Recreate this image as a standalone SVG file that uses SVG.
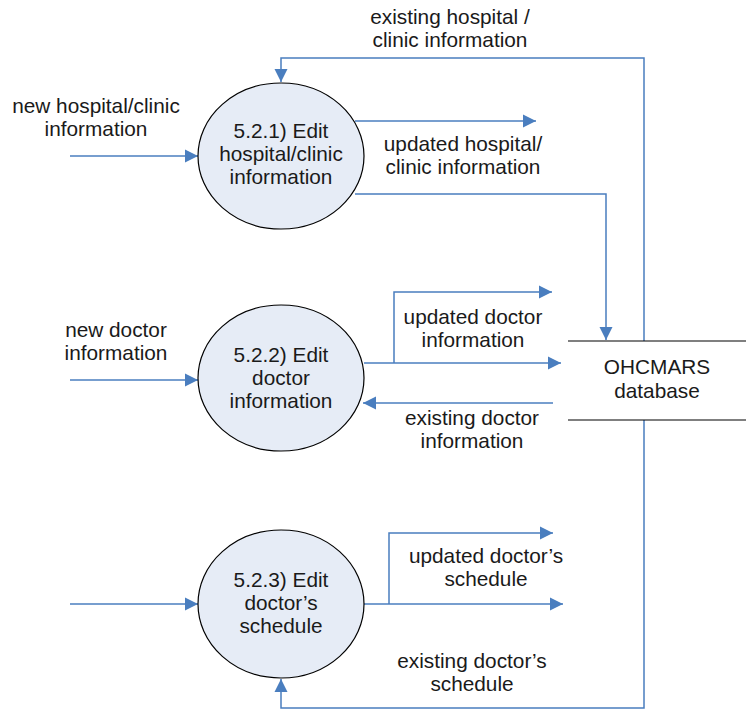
<svg xmlns="http://www.w3.org/2000/svg" width="746" height="709" viewBox="0 0 746 709">
<defs>
<marker id="ah" markerUnits="userSpaceOnUse" markerWidth="14" markerHeight="14" viewBox="0 0 14 14" refX="13" refY="7" orient="auto">
<path d="M0,0.5 L13,7 L0,13.5 z" fill="#4A7EBF"/>
</marker>
<style>
.t{font-family:"Liberation Sans",Arial,sans-serif;font-size:20.8px;fill:#1a1a1a;text-anchor:middle}
.c{fill:none;stroke:#4A7EBF;stroke-width:1.5}
.n{fill:#E6ECF6;stroke:#000;stroke-width:1.2}
.d{stroke:#000;stroke-width:1.2}
</style>
</defs>
<rect width="746" height="709" fill="#fff"/>
<g id="connectors">
<path class="c" d="M644,341 V58 H281 V82" marker-end="url(#ah)"/>
<path class="c" d="M355,121 H536" marker-end="url(#ah)"/>
<path class="c" d="M355,194 H606 V340" marker-end="url(#ah)"/>
<path class="c" d="M70,156 H198" marker-end="url(#ah)"/>
<path class="c" d="M70,380 H198" marker-end="url(#ah)"/>
<path class="c" d="M364,363 H561" marker-end="url(#ah)"/>
<path class="c" d="M394,363 V292 H552" marker-end="url(#ah)"/>
<path class="c" d="M553,403 H363" marker-end="url(#ah)"/>
<path class="c" d="M70,604 H198" marker-end="url(#ah)"/>
<path class="c" d="M364,604 H563" marker-end="url(#ah)"/>
<path class="c" d="M389,604 V533 H553" marker-end="url(#ah)"/>
<path class="c" d="M644,420 V708 H281 V679" marker-end="url(#ah)"/>
<text class="t" x="450" y="24">existing hospital /</text>
<text class="t" x="450" y="47">clinic information</text>
<text class="t" x="463" y="151">updated hospital/</text>
<text class="t" x="463" y="174">clinic information</text>
<text class="t" x="96" y="113">new hospital/clinic</text>
<text class="t" x="96" y="136">information</text>
<text class="t" x="116" y="337">new doctor</text>
<text class="t" x="116" y="360">information</text>
<text class="t" x="473" y="324">updated doctor</text>
<text class="t" x="473" y="347">information</text>
<text class="t" x="472" y="425">existing doctor</text>
<text class="t" x="472" y="448">information</text>
<text class="t" x="486" y="563">updated doctor’s</text>
<text class="t" x="486" y="586">schedule</text>
<text class="t" x="472" y="668">existing doctor’s</text>
<text class="t" x="472" y="691">schedule</text>
</g>
<g id="p521">
<ellipse class="n" cx="281" cy="156" rx="83" ry="73"/>
<text class="t" x="281" y="138">5.2.1) Edit</text>
<text class="t" x="281" y="161">hospital/clinic</text>
<text class="t" x="281" y="184">information</text>
</g>
<g id="p522">
<ellipse class="n" cx="281" cy="378" rx="83" ry="73"/>
<text class="t" x="281" y="362">5.2.2) Edit</text>
<text class="t" x="281" y="385">doctor</text>
<text class="t" x="281" y="408">information</text>
</g>
<g id="p523">
<ellipse class="n" cx="281" cy="604" rx="83" ry="74"/>
<text class="t" x="281" y="587">5.2.3) Edit</text>
<text class="t" x="281" y="610">doctor’s</text>
<text class="t" x="281" y="633">schedule</text>
</g>
<g id="db">
<line class="d" x1="568" y1="341" x2="746" y2="341"/>
<line class="d" x1="568" y1="420" x2="746" y2="420"/>
<text class="t" x="657" y="374">OHCMARS</text>
<text class="t" x="657" y="398">database</text>
</g>
</svg>
